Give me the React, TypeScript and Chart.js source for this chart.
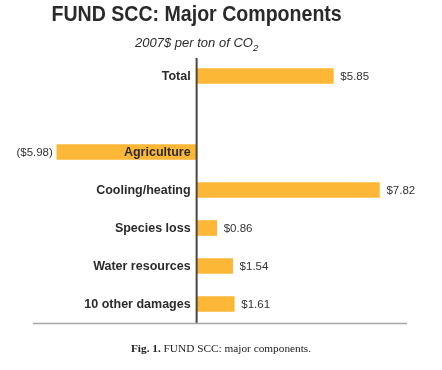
import React, { useEffect, useRef } from "react";
import { Chart, registerables } from "chart.js";

Chart.register(...registerables);

const categories: string[] = ["Total", "", "Agriculture", "Cooling/heating", "Species loss", "Water resources", "10 other damages"];
const values: (number | null)[] = [5.85, null, -5.98, 7.82, 0.86, 1.54, 1.61];
const valueLabels: string[] = ["$5.85", "", "($5.98)", "$7.82", "$0.86", "$1.54", "$1.61"];

const titleText = "FUND SCC: Major Components";
const subtitleText = "2007$ per ton of CO";
const subtitleSub = "2";
const captionBold = "Fig. 1.";
const captionRest = " FUND SCC: major components.";

const BAR_COLOR = "#FDB736";
const SANS = "'Liberation Sans', Arial, sans-serif";
const SERIF = "'Liberation Serif', 'Times New Roman', serif";

const textPlugin = {
  id: "textPlugin",
  afterDatasetsDraw(chart: any) {
    const ctx = chart.ctx as CanvasRenderingContext2D;
    const area = chart.chartArea;
    const xs = chart.scales.x;
    const ys = chart.scales.y;
    const zero = xs.getPixelForValue(0);
    ctx.save();
    // zero axis line
    ctx.strokeStyle = "#474747";
    ctx.lineWidth = 2;
    ctx.beginPath();
    ctx.moveTo(zero, area.top + 1);
    ctx.lineTo(zero, area.bottom);
    ctx.stroke();
    // bottom rule
    ctx.strokeStyle = "#a8a8a8";
    ctx.lineWidth = 1.5;
    ctx.beginPath();
    ctx.moveTo(area.left, area.bottom + 0.5);
    ctx.lineTo(area.right, area.bottom + 0.5);
    ctx.stroke();

    // category labels and value labels
    ctx.textBaseline = "middle";
    categories.forEach((c, i) => {
      const y = ys.getPixelForValue(i);
      const v = values[i];
      if (c) {
        ctx.font = `bold 12.5px ${SANS}`;
        ctx.fillStyle = "#2b2b2b";
        ctx.textAlign = "right";
        ctx.fillText(c, zero - 6, y + 1);
      }
      if (v !== null && v !== undefined) {
        const end = xs.getPixelForValue(v);
        ctx.font = `11.5px ${SANS}`;
        ctx.fillStyle = "#333333";
        if (v >= 0) {
          ctx.textAlign = "left";
          ctx.fillText(valueLabels[i], end + 7, y + 1);
        } else {
          ctx.textAlign = "right";
          ctx.fillText(valueLabels[i], end - 4, y + 1);
        }
      }
    });

    // title (slightly condensed)
    ctx.textBaseline = "alphabetic";
    ctx.textAlign = "center";
    ctx.fillStyle = "#2a2a2a";
    ctx.save();
    ctx.translate(zero, 21);
    ctx.scale(0.91, 1);
    ctx.font = `bold 21.5px ${SANS}`;
    ctx.fillText(titleText, 0, 0);
    ctx.restore();

    // subtitle with subscript
    ctx.font = `italic 13px ${SANS}`;
    const w1 = ctx.measureText(subtitleText).width;
    ctx.font = `italic 9.5px ${SANS}`;
    const w2 = ctx.measureText(subtitleSub).width;
    const sx = zero - (w1 + w2) / 2;
    ctx.textAlign = "left";
    ctx.font = `italic 13px ${SANS}`;
    ctx.fillText(subtitleText, sx, 47);
    ctx.font = `italic 9.5px ${SANS}`;
    ctx.fillText(subtitleSub, sx + w1, 51);

    // caption
    ctx.fillStyle = "#222222";
    ctx.font = `bold 11.3px ${SERIF}`;
    const cb = ctx.measureText(captionBold).width;
    ctx.font = `11.3px ${SERIF}`;
    const cr = ctx.measureText(captionRest).width;
    const cx = chart.width / 2 - (cb + cr) / 2;
    ctx.font = `bold 11.3px ${SERIF}`;
    ctx.fillText(captionBold, cx, 352);
    ctx.font = `11.3px ${SERIF}`;
    ctx.fillText(captionRest, cx + cb, 352);
    ctx.restore();
  },
};

export default function App() {
  const ref = useRef<HTMLCanvasElement | null>(null);
  useEffect(() => {
    if (!ref.current) return;
    const chart = new Chart(ref.current, {
      type: "bar",
      data: {
        labels: categories,
        datasets: [
          {
            data: values as any,
            backgroundColor: BAR_COLOR,
            borderWidth: 0,
            barThickness: 15,
          },
        ],
      },
      options: {
        indexAxis: "y",
        responsive: false,
        animation: false,
        layout: { padding: { left: 33, right: 35, top: 57, bottom: 47 } },
        plugins: {
          legend: { display: false },
          tooltip: { enabled: false },
          title: { display: false },
        },
        scales: {
          x: { display: false, min: -7, max: 9, grid: { display: false } },
          y: { display: false, grid: { display: false } },
        },
      },
      plugins: [textPlugin],
    });
    return () => chart.destroy();
  }, []);
  return (
    <div style={{ position: "fixed", left: 0, top: 0, width: 442, height: 370, background: "#fff" }}>
      <canvas ref={ref} width={442} height={370} style={{ display: "block" }} />
    </div>
  );
}
